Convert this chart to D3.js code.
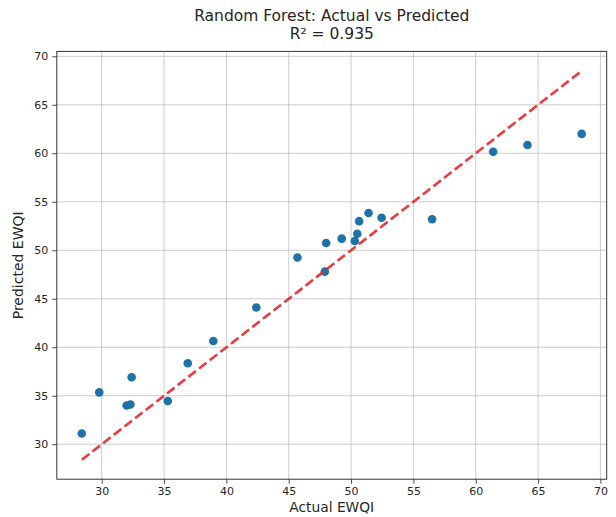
<!DOCTYPE html>
<html>
<head>
<meta charset="utf-8">
<script src="https://cdn.jsdelivr.net/npm/d3@7"></script>
<style>
  body { margin: 0; background: #fff; }
  text { font-family: "DejaVu Sans", sans-serif; fill: #262626; }
</style>
</head>
<body>
<div id="chart"></div>
<script>
/* Data */
var actual =    [28.4, 29.8, 32.0, 32.3, 32.4, 35.3, 36.9, 38.95, 42.4, 45.7, 47.9, 48.0, 49.25, 50.3, 50.5, 50.65, 51.4, 52.45, 56.5, 61.4, 64.15, 68.5];
var predicted = [31.1, 35.35, 34.0, 34.1, 36.9, 34.45, 38.35, 40.65, 44.1, 49.25, 47.8, 50.75, 51.2, 50.95, 51.7, 53.0, 53.85, 53.35, 53.2, 60.15, 60.85, 62.0];
var ticks = [30, 35, 40, 45, 50, 55, 60, 65, 70];
var title = "Random Forest: Actual vs Predicted";
var subtitle = "R\u00b2 = 0.935";

/* Settings */
var width = 616,
    height = 517,
    margin = {top: 51.4, right: 9.3, bottom: 37.8, left: 56.8};

var lo = d3.min(actual), hi = d3.max(actual);
var xpad = (hi - lo) * 0.05;
var ymin = Math.min(lo, d3.min(predicted)), ymax = Math.max(hi, d3.max(predicted));
var ypad = (ymax - ymin) * 0.05;

var x = d3.scaleLinear()
    .domain([lo - xpad, hi + xpad])
    .range([margin.left, width - margin.right]);

var y = d3.scaleLinear()
    .domain([ymin - ypad, ymax + ypad])
    .range([height - margin.bottom, margin.top]);

var svg = d3.select("#chart").append("svg")
    .attr("width", width)
    .attr("height", height)
    .attr("viewBox", "0 0 " + width + " " + height);

/* Grid */
var grid = svg.append("g").attr("stroke", "#b0b0b0").attr("stroke-opacity", 0.65).attr("stroke-width", 1);
grid.selectAll(".gx").data(ticks).enter().append("line")
    .attr("x1", function(d) { return x(d); })
    .attr("x2", function(d) { return x(d); })
    .attr("y1", margin.top)
    .attr("y2", height - margin.bottom);
grid.selectAll(".gy").data(ticks).enter().append("line")
    .attr("y1", function(d) { return y(d); })
    .attr("y2", function(d) { return y(d); })
    .attr("x1", margin.left)
    .attr("x2", width - margin.right);

/* Points */
svg.append("g").selectAll("circle")
  .data(actual)
  .enter().append("circle")
    .attr("cx", function(d) { return x(d); })
    .attr("cy", function(d, i) { return y(predicted[i]); })
    .attr("r", 4.3)
    .attr("fill", "#1f72a8");

/* Perfect prediction line */
svg.append("line")
    .attr("x1", x(lo)).attr("y1", y(lo))
    .attr("x2", x(hi)).attr("y2", y(hi))
    .attr("stroke", "#e8262b")
    .attr("stroke-opacity", 0.9)
    .attr("stroke-width", 2.6)
    .attr("stroke-dasharray", "9.5,4");

/* Axes */
var xAxis = svg.append("g")
    .attr("transform", "translate(0," + (height - margin.bottom) + ")")
    .call(d3.axisBottom(x).tickValues(ticks).tickSize(4.5).tickSizeOuter(0).tickPadding(3.5));
var yAxis = svg.append("g")
    .attr("transform", "translate(" + margin.left + ",0)")
    .call(d3.axisLeft(y).tickValues(ticks).tickSize(4.5).tickSizeOuter(0).tickPadding(4));
[xAxis, yAxis].forEach(function(a) {
  a.select(".domain").remove();
  a.selectAll(".tick line").attr("stroke", "#333").attr("stroke-width", 0.9);
  a.selectAll(".tick text").attr("font-size", 11).attr("fill", "#333")
    .attr("font-family", "DejaVu Sans, sans-serif");
});

/* Frame */
svg.append("rect")
    .attr("x", margin.left)
    .attr("y", margin.top)
    .attr("width", width - margin.left - margin.right)
    .attr("height", height - margin.top - margin.bottom)
    .attr("fill", "none")
    .attr("stroke", "#333")
    .attr("stroke-width", 1);

/* Labels */
var cx = (margin.left + width - margin.right) / 2;
function label(txt, px, py, size, rot) {
  svg.append("text")
      .attr("transform", "translate(" + px + "," + py + ")" + (rot ? " rotate(" + rot + ")" : ""))
      .attr("text-anchor", "middle")
      .attr("font-size", size)
      .text(txt);
}
label(title, cx, 20.5, 15.5);
label(subtitle, cx, 38.5, 15.5);
label("Actual EWQI", cx, 511.5, 13.8);
label("Predicted EWQI", 23, (margin.top + height - margin.bottom) / 2, 14, -90);
</script>
</body>
</html>
